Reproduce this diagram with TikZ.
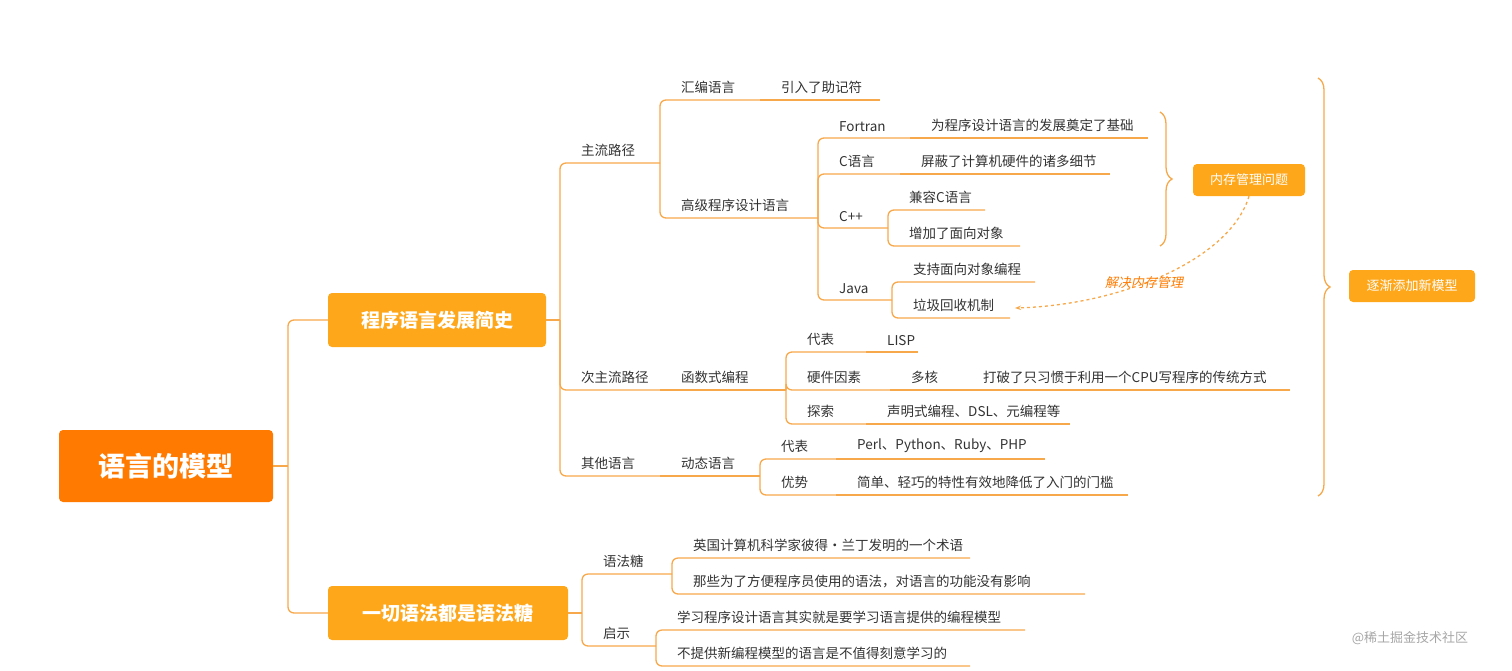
\documentclass[tikz,border=0pt]{standalone}
\usepackage{fontspec}
\setmainfont{Noto Sans CJK SC}
\usetikzlibrary{arrows.meta,positioning,decorations.pathreplacing}
\definecolor{brline}{HTML}{F7A84A}
\definecolor{rootfill}{HTML}{FF7A00}
\definecolor{midfill}{HTML}{FFA71A}
\definecolor{txt}{HTML}{333333}
\tikzset{
  br/.style={brline,line width=1.3pt,rounded corners=6pt},
  lbl/.style={anchor=south west,inner sep=2pt,text=txt,font=\fontsize{13.5}{15}\selectfont},
  midbox/.style={fill=midfill,rounded corners=4pt,text=white,font=\fontsize{19}{22}\selectfont\bfseries,minimum height=54pt},
  tagbox/.style={fill=midfill,rounded corners=4pt,text=white,font=\fontsize{13}{15}\selectfont,minimum height=32pt}
}
% #1 name, #2 split x, #3 parent y, #4 own y, #5 end x, #6 text
\newcommand{\leaf}[6]{%
  \draw[br] (#2,#3) |- (#5,#4);
  \node[lbl] (#1) at (#2+19,#4-4) {#6};}
% same line continuation: #1 name, #2 start x, #3 y, #4 end x, #5 text
\newcommand{\tip}[5]{%
  \draw[br] (#2,#3) -- (#4,#3);
  \node[lbl] (#1) at (#2+19,#3-4) {#5};}
\begin{document}
\begin{tikzpicture}[x=1pt,y=-1pt]
  \useasboundingbox (0,0) rectangle (1512,670);

  \node[fill=rootfill,rounded corners=4pt,text=white,font=\fontsize{27}{30}\selectfont\bfseries,
        minimum width=214pt,minimum height=72pt] (root) at (166,466) {语言的模型};
  \node[midbox,minimum width=218pt] (hist) at (437,320) {程序语言发展简史};
  \node[midbox,minimum width=240pt] (sugar) at (448,613) {一切语法都是语法糖};

  \draw[br] (root.east) -- (288,466);
  \draw[br] (288,466) |- (hist.west);
  \draw[br] (288,466) |- (sugar.west);

  % 程序语言发展简史
  \draw[br] (hist.east) -- (560,320);
  \leaf{main}{560}{320}{163}{660}{主流路径}
  \leaf{second}{560}{320}{390}{660}{次主流路径}
  \leaf{other}{560}{320}{476}{660}{其他语言}

  \leaf{asm}{660}{163}{100}{760}{汇编语言}
  \tip{asmA}{760}{100}{880}{引入了助记符}
  \leaf{high}{660}{163}{218}{818}{高级程序设计语言}

  \leaf{fortran}{818}{218}{138}{910}{Fortran}
  \tip{fortranA}{910}{138}{1148}{为程序设计语言的发展奠定了基础}
  \leaf{clang}{818}{218}{174}{900}{C语言}
  \tip{clangA}{900}{174}{1110}{屏蔽了计算机硬件的诸多细节}
  \leaf{cpp}{818}{218}{228}{888}{C++}
  \leaf{cppA}{888}{228}{210}{985}{兼容C语言}
  \leaf{cppB}{888}{228}{246}{1020}{增加了面向对象}
  \leaf{java}{818}{218}{300}{892}{Java}
  \leaf{javaA}{892}{300}{282}{1035}{支持面向对象编程}
  \leaf{javaB}{892}{300}{318}{1010}{垃圾回收机制}

  \tip{func}{660}{390}{786}{函数式编程}
  \leaf{rep}{786}{390}{352}{866}{代表}
  \tip{lisp}{866}{352}{918}{LISP}
  \leaf{hw}{786}{390}{390}{890}{硬件因素}
  \tip{multi}{890}{390}{962}{多核}
  \tip{multiA}{962}{390}{1290}{打破了只习惯于利用一个CPU写程序的传统方式}
  \leaf{expl}{786}{390}{424}{866}{探索}
  \tip{explA}{866}{424}{1070}{声明式编程、DSL、元编程等}

  \tip{dyn}{660}{476}{760}{动态语言}
  \leaf{dynR}{760}{476}{459}{836}{代表}
  \tip{dynRA}{836}{459}{1045}{Perl、Python、Ruby、PHP}
  \leaf{dynA}{760}{476}{495}{836}{优势}
  \tip{dynAA}{836}{495}{1128}{简单、轻巧的特性有效地降低了入门的门槛}

  % 一切语法都是语法糖
  \draw[br] (sugar.east) -- (582,613);
  \leaf{syn}{582}{613}{574}{672}{语法糖}
  \leaf{hint}{582}{613}{646}{656}{启示}
  \leaf{synA}{672}{574}{558}{970}{英国计算机科学家彼得·兰丁发明的一个术语}
  \leaf{synB}{672}{574}{594}{1085}{那些为了方便程序员使用的语法，对语言的功能没有影响}
  \leaf{hintA}{656}{646}{630}{1025}{学习程序设计语言其实就是要学习语言提供的编程模型}
  \leaf{hintB}{656}{646}{666}{970}{不提供新编程模型的语言是不值得刻意学习的}

  % summaries
  \node[tagbox,minimum width=112pt] (mem) at (1249,180) {内存管理问题};
  \draw[brline,line width=1.3pt,decorate,decoration={brace,amplitude=12pt}]
    (1160,112) -- (1160,246);
  \node[tagbox,minimum width=126pt] (grow) at (1412,286) {逐渐添加新模型};
  \draw[brline,line width=1.3pt,decorate,decoration={brace,amplitude=12pt,aspect=0.5}]
    (1318,78) -- (1318,496);
  \draw[brline,line width=1.3pt,dashed,-{Stealth[length=6pt]}]
    (mem.south) .. controls (1230,260) and (1120,305) .. (1015,308);
  \node[text=rootfill,font=\fontsize{13}{15}\selectfont,xslant=0.2] (fix) at (1145,283) {解决内存管理};

  \node[text=gray!70,font=\fontsize{13}{15}\selectfont] (mark) at (1410,638) {@稀土掘金技术社区};
\end{tikzpicture}
\end{document}
